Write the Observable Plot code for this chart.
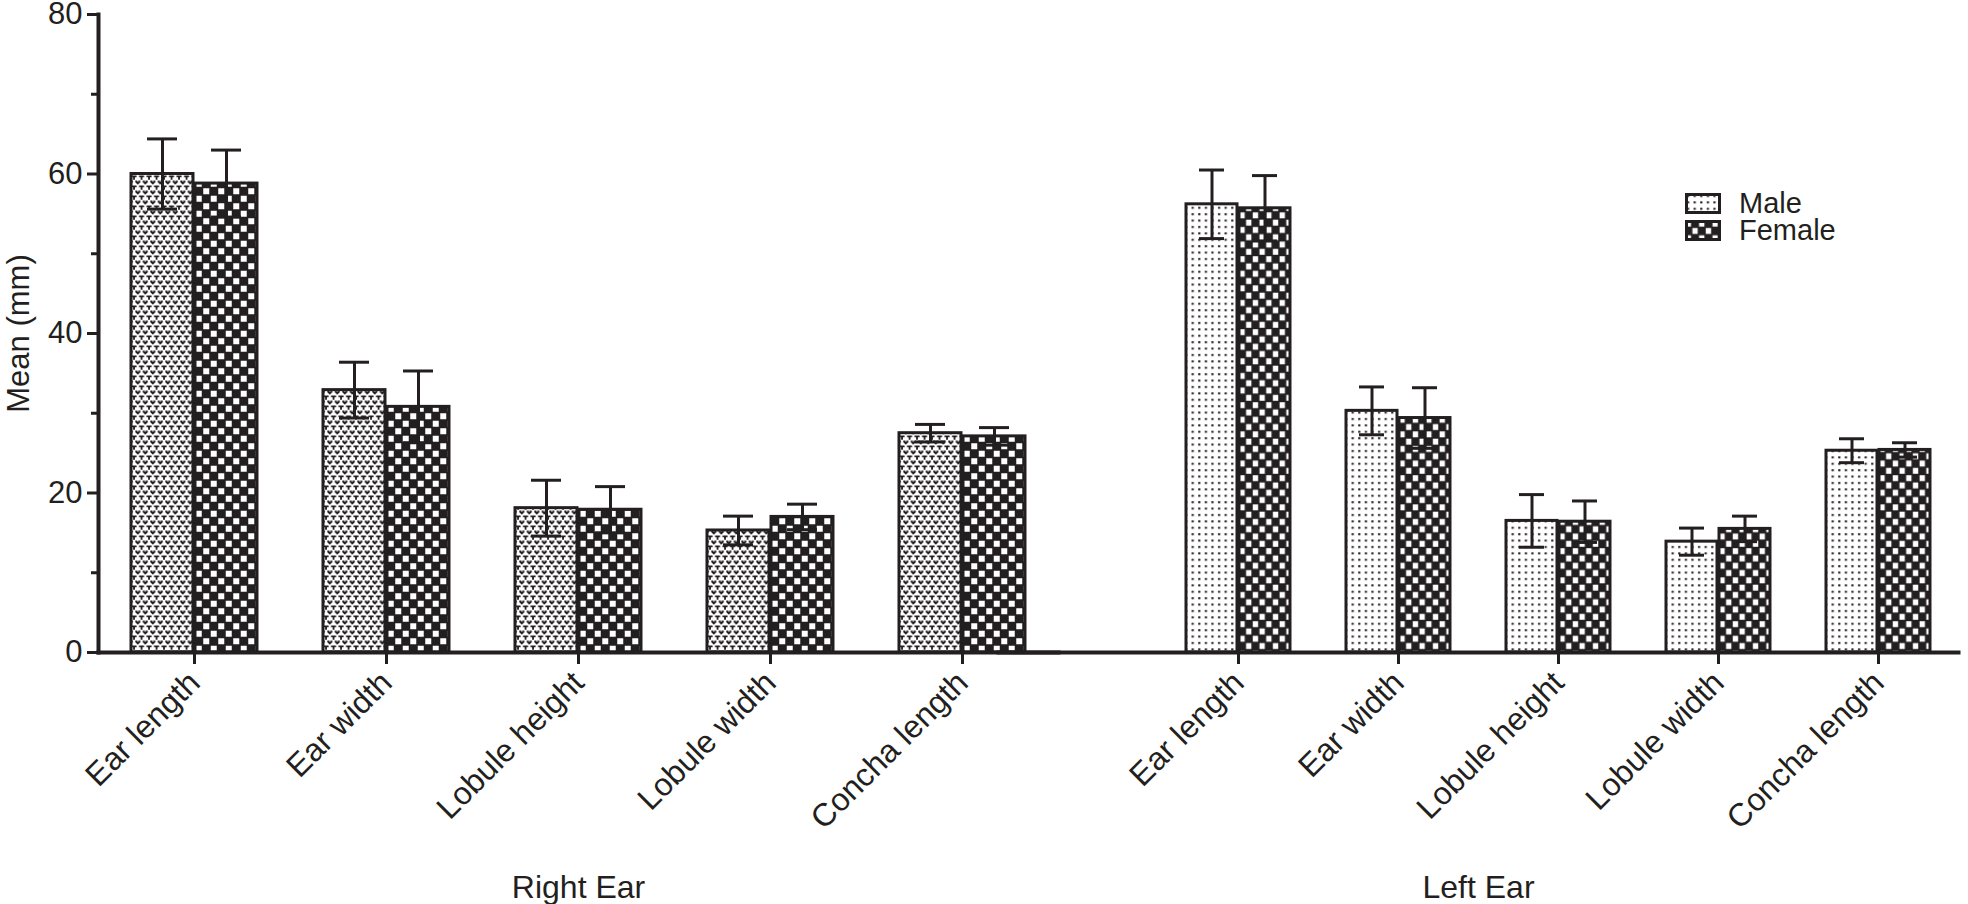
<!DOCTYPE html>
<html>
<head>
<meta charset="utf-8">
<script src="https://cdn.jsdelivr.net/npm/d3@7"></script>
<script src="https://cdn.jsdelivr.net/npm/@observablehq/plot@0.6"></script>
<style>
  html, body { margin: 0; padding: 0; background: #fff; }
  #wrap { position: relative; width: 1968px; height: 904px; overflow: hidden;
          font-family: Arial, "Liberation Sans", Helvetica, sans-serif; color: #231f20; }
  #wrap .layer { position: absolute; left: 0; top: 0; }
  #legend { position: absolute; left: 1685px; top: 190px; font-size: 29px; }
  #legend .row { display: flex; align-items: center; height: 27px; line-height: 27px; }
  #legend .row span { margin-left: 18px; }
  #legend svg { display: block; }
</style>
</head>
<body>
<svg width="0" height="0" style="position:absolute">
  <defs>
    <pattern id="femaleR" patternUnits="userSpaceOnUse" width="15" height="15">
      <rect width="15" height="15" fill="#231f20"/>
      <rect x="0.75" y="0.75" width="6" height="6" fill="#fff"/>
      <rect x="8.25" y="8.25" width="6" height="6" fill="#fff"/>
    </pattern>
    <pattern id="femaleL" patternUnits="userSpaceOnUse" width="13.4" height="14.6">
      <rect width="13.4" height="14.6" fill="#231f20"/>
      <rect x="0.7" y="0.7" width="5.3" height="5.9" fill="#fff"/>
      <rect x="7.4" y="8" width="5.3" height="5.9" fill="#fff"/>
    </pattern>
    <pattern id="maleR" patternUnits="userSpaceOnUse" width="7.5" height="10">
      <rect width="7.5" height="10" fill="#fff"/>
      <path transform="translate(0.3,0.5)" d="M0,0h2v1.2h1v-1.2h2v1.7l-2.5,2.5l-2.5,-2.5z" fill="#231f20"/>
      <path transform="translate(4.05,5.5)" d="M0,0h5v1.7h-1.6v2.5h-1.8v-2.5h-1.6z" fill="#231f20"/>
      <path transform="translate(-3.45,5.5)" d="M0,0h5v1.7h-1.6v2.5h-1.8v-2.5h-1.6z" fill="#231f20"/>
    </pattern>
    <pattern id="maleL" patternUnits="userSpaceOnUse" width="6.6" height="6.4">
      <rect width="6.6" height="6.4" fill="#fff"/>
      <rect x="2" y="2" width="2.2" height="2" fill="#231f20"/>
    </pattern>
  </defs>
</svg>
<div id="wrap">
  <div id="legend">
    <div class="row"><svg width="36" height="21"><rect x="1.5" y="1.5" width="33" height="18" fill="url(#maleL)" stroke="#231f20" stroke-width="3"/></svg><span>Male</span></div>
    <div class="row"><svg width="36" height="21"><rect x="1.5" y="1.5" width="33" height="18" fill="url(#femaleL)" stroke="#231f20" stroke-width="3"/></svg><span>Female</span></div>
  </div>
</div>
<script>
// ---- data ----
const categories = ["Ear length", "Ear width", "Lobule height", "Lobule width", "Concha length"];
const sexes = ["Male", "Female"];
const groupLabels = ["Right Ear", "Left Ear"];

const rightMaleMean   = [60.0, 32.9, 18.1, 15.3, 27.5];
const rightMaleSD     = [4.4, 3.5, 3.5, 1.8, 1.1];
const rightFemaleMean = [58.8, 30.8, 17.9, 17.0, 27.1];
const rightFemaleSD   = [4.2, 4.5, 2.9, 1.6, 1.1];

const leftMaleMean    = [56.2, 30.3, 16.5, 13.9, 25.3];
const leftMaleSD      = [4.3, 3.0, 3.3, 1.7, 1.5];
const leftFemaleMean  = [55.7, 29.4, 16.4, 15.5, 25.4];
const leftFemaleSD    = [4.1, 3.8, 2.6, 1.6, 0.9];

const yMajorTicks = [0, 20, 40, 60, 80];
const yMinorTicks = [10, 30, 50, 70];
const yLabel = "Mean (mm)";

// ---- build tables ----
function rows(mM, mS, fM, fS) {
  return categories.flatMap((c, i) => [
    {cat: c, sex: sexes[0], mean: mM[i], sd: mS[i]},
    {cat: c, sex: sexes[1], mean: fM[i], sd: fS[i]}
  ]);
}
const ink = "#231f20";
const font = "Arial, 'Liberation Sans', Helvetica, sans-serif";

function earChart(cfg) {
  const data = cfg.data;
  const male = data.filter(d => d.sex === sexes[0]);
  const female = data.filter(d => d.sex === sexes[1]);
  const marks = [
    Plot.barY(male, {fx: "cat", x: "sex", y: "mean", fill: cfg.malePattern, stroke: ink, strokeWidth: 3}),
    Plot.barY(female, {fx: "cat", x: "sex", y: "mean", fill: cfg.femalePattern, stroke: ink, strokeWidth: 3}),
    Plot.ruleX(data, {fx: "cat", x: "sex", y1: d => d.mean - d.sd, y2: d => d.mean + d.sd, stroke: ink, strokeWidth: 3}),
    Plot.tickY(data, {fx: "cat", x: "sex", y: d => d.mean + d.sd, insetLeft: cfg.capInset, insetRight: cfg.capInset, stroke: ink, strokeWidth: 3}),
    Plot.tickY(data, {fx: "cat", x: "sex", y: d => d.mean - d.sd, insetLeft: cfg.capInset, insetRight: cfg.capInset, stroke: ink, strokeWidth: 3}),
    Plot.frame({anchor: "bottom", facet: "super", stroke: ink, strokeWidth: 4}),
    Plot.axisFx({anchor: "bottom", ticks: categories, tickSize: 12, strokeWidth: 3, tickRotate: -45, tickPadding: 13,
                 fontSize: 32, label: cfg.label, labelAnchor: "center", labelOffset: 245, labelArrow: "none"})
  ];
  if (cfg.withYAxis) {
    marks.push(
      Plot.frame({anchor: "left", facet: "super", stroke: ink, strokeWidth: 4}),
      Plot.axisY({ticks: yMajorTicks, tickSize: 11, tickPadding: 5, strokeWidth: 3, fontSize: 31,
                  label: yLabel, labelAnchor: "center", labelOffset: 92, labelArrow: "none"}),
      Plot.axisY({ticks: yMinorTicks, tickSize: 7, strokeWidth: 3, tickFormat: () => "", label: null})
    );
  }
  return Plot.plot({
    width: 1968, height: 904,
    marginTop: 14, marginBottom: 252,
    marginLeft: cfg.marginLeft, marginRight: cfg.marginRight,
    style: {background: "transparent", fontFamily: font, color: ink, overflow: "visible"},
    fx: {domain: cfg.fxDomain, paddingInner: 0, paddingOuter: 0},
    x: {domain: sexes, paddingInner: cfg.xPadInner, paddingOuter: cfg.xPadOuter, axis: null},
    y: {domain: [0, 80], axis: cfg.withYAxis ? undefined : null},
    marks
  });
}

const right = earChart({
  data: rows(rightMaleMean, rightMaleSD, rightFemaleMean, rightFemaleSD),
  fxDomain: categories,
  label: groupLabels[0], malePattern: "url(#maleR)", femalePattern: "url(#femaleR)",
  marginLeft: 98, marginRight: 910,
  xPadInner: 0.031, xPadOuter: 0.4925, capInset: 16, withYAxis: true
});
// the left segment starts with an empty leading slot (gap after the right-ear axis)
const left = earChart({
  data: rows(leftMaleMean, leftMaleSD, leftFemaleMean, leftFemaleSD),
  fxDomain: [""].concat(categories),
  label: groupLabels[1], malePattern: "url(#maleL)", femalePattern: "url(#femaleL)",
  marginLeft: 998, marginRight: 10,
  xPadInner: 0.037, xPadOuter: 0.5, capInset: 13, withYAxis: false
});
right.classList.add("layer");
left.classList.add("layer");
const wrap = document.getElementById("wrap");
wrap.insertBefore(left, wrap.firstChild);
wrap.insertBefore(right, wrap.firstChild);
</script>
</body>
</html>
